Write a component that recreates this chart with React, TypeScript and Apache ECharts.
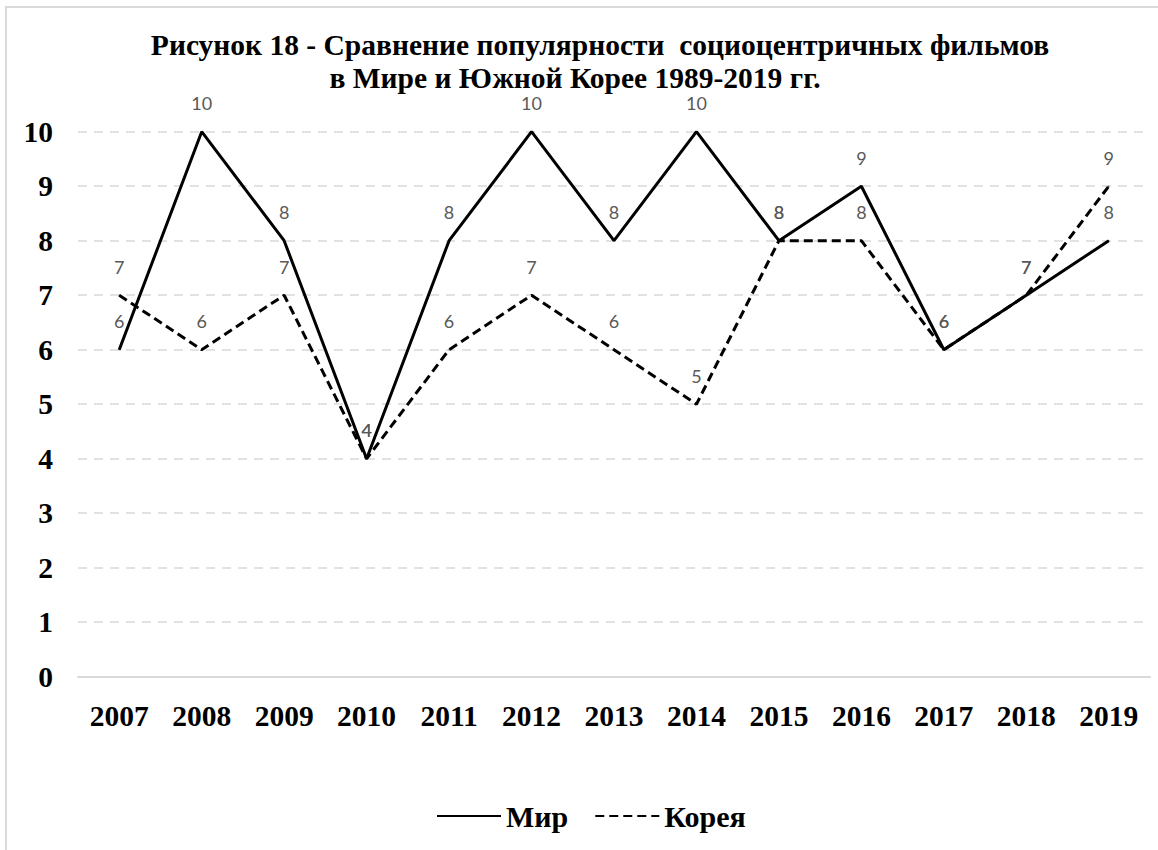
import React, { useEffect, useRef } from "react";
import * as echarts from "echarts";

const years = ["2007", "2008", "2009", "2010", "2011", "2012", "2013", "2014", "2015", "2016", "2017", "2018", "2019"];
const world = [6, 10, 8, 4, 8, 10, 8, 10, 8, 9, 6, 7, 8];
const korea = [7, 6, 7, 4, 6, 7, 6, 5, 8, 8, 6, 7, 9];
const titleLine1 = "Рисунок 18 - Сравнение популярности  социоцентричных фильмов";
const titleLine2 = "в Мире и Южной Корее 1989-2019 гг.";

const SERIF = "Liberation Serif";
const SANS = "Lato";

export default function App() {
  const ref = useRef<HTMLDivElement>(null);
  useEffect(() => {
    if (!ref.current) return;
    const chart = echarts.init(ref.current, undefined, { renderer: "svg" });
    const labelCfg = {
      show: true,
      position: "top",
      distance: 19,
      color: "#595959",
      fontFamily: SANS,
      fontSize: 18,
    };
    chart.setOption({
      animation: false,
      backgroundColor: "#ffffff",
      graphic: [
        { type: "line", shape: { x1: 6, y1: 7, x2: 1158, y2: 7 }, style: { stroke: "#d9d9d9", lineWidth: 2 } },
        { type: "line", shape: { x1: 6, y1: 6, x2: 6, y2: 850 }, style: { stroke: "#d9d9d9", lineWidth: 2 } },
        {
          type: "text",
          x: 600,
          y: 45,
          style: { text: titleLine1, fontFamily: SERIF, fontWeight: "bold", fontSize: 29.5, fill: "#000", textAlign: "center", textVerticalAlign: "middle" },
        },
        {
          type: "text",
          x: 575,
          y: 78,
          style: { text: titleLine2, fontFamily: SERIF, fontWeight: "bold", fontSize: 29.5, fill: "#000", textAlign: "center", textVerticalAlign: "middle" },
        },
      ],
      legend: {
        bottom: 14,
        left: 431,
        itemWidth: 64,
        itemHeight: 14,
        itemGap: 26,
        itemStyle: { opacity: 0 },
        textStyle: { fontFamily: SERIF, fontWeight: "bold", fontSize: 30, color: "#000" },
        data: ["Мир", "Корея"],
      },
      grid: { left: 78, right: 8, top: 131.7, bottom: 173.3 },
      xAxis: {
        type: "category",
        data: years,
        boundaryGap: true,
        axisTick: { show: false },
        axisLine: { lineStyle: { color: "#d9d9d9", width: 2 } },
        axisLabel: { margin: 24, color: "#000", fontFamily: SERIF, fontWeight: "bold", fontSize: 29.5 },
      },
      yAxis: {
        type: "value",
        min: 0,
        max: 10,
        interval: 1,
        axisLine: { show: false },
        axisTick: { show: false },
        axisLabel: { margin: 25, color: "#000", fontFamily: SERIF, fontWeight: "bold", fontSize: 29.5 },
        splitLine: { lineStyle: { color: "#d9d9d9", width: 1.5, type: [9, 7] } },
      },
      series: [
        {
          name: "Мир",
          type: "line",
          data: world,
          symbol: "circle",
          symbolSize: 1,
          showSymbol: true,
          lineStyle: { color: "#000", width: 3 },
          itemStyle: { color: "#000" },
          label: labelCfg,
          z: 3,
        },
        {
          name: "Корея",
          type: "line",
          data: korea,
          symbol: "circle",
          symbolSize: 1,
          showSymbol: true,
          lineStyle: { color: "#000", width: 3, type: [9, 5] },
          itemStyle: { color: "#000" },
          label: labelCfg,
          z: 2,
        },
      ],
    });
    return () => chart.dispose();
  }, []);
  return <div ref={ref} style={{ position: "fixed", left: 0, top: 0, width: 1158, height: 850 }} />;
}
